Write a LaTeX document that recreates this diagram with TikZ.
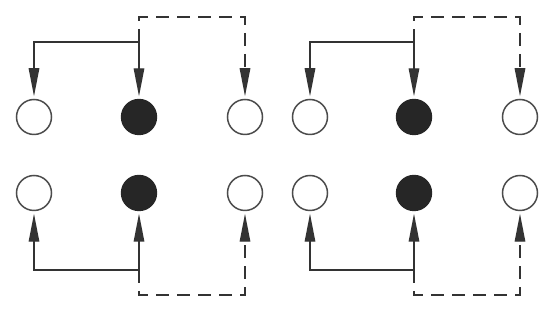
\documentclass[tikz,border=0pt]{standalone}
\usetikzlibrary{arrows.meta}
\begin{document}
\begin{tikzpicture}[x=1pt,y=-1pt,
  ln/.style={draw=black!80, line width=1.4pt},
  arr/.style={ln, -{Triangle[length=28pt,width=10.5pt]}, shorten >=2.5pt},
  dsh/.style={dash pattern=on 13pt off 8pt},
  hole/.style={circle, draw=black!70, line width=1.5pt, fill=white, minimum size=35pt, inner sep=0pt},
  dot/.style={circle, draw=black!85, line width=1.4pt, fill=black!85, minimum size=35pt, inner sep=0pt}]
\useasboundingbox (0,0) rectangle (550,328);
% top row
\node[hole] (a1) at (34,117) {};
\node[dot]  (b1) at (139,117) {};
\node[hole] (c1) at (245,117) {};
\node[hole] (a2) at (310,117) {};
\node[dot]  (b2) at (414,117) {};
\node[hole] (c2) at (520,117) {};
% bottom row
\node[hole] (a3) at (34,193) {};
\node[dot]  (b3) at (139,193) {};
\node[hole] (c3) at (245,193) {};
\node[hole] (a4) at (310,193) {};
\node[dot]  (b4) at (414,193) {};
\node[hole] (c4) at (520,193) {};
% junctions
\coordinate (j1) at (139,42);
\coordinate (d1) at (139,17);
\coordinate (j2) at (414,42);
\coordinate (d2) at (414,17);
\coordinate (j3) at (139,270);
\coordinate (d3) at (139,295);
\coordinate (j4) at (414,270);
\coordinate (d4) at (414,295);
% top connectors
\draw[arr] (j1) -| (a1);
\draw[arr] (j1) -- (b1);
\draw[arr, dsh] (j1) -- (d1) -| (c1);
\draw[arr] (j2) -| (a2);
\draw[arr] (j2) -- (b2);
\draw[arr, dsh] (j2) -- (d2) -| (c2);
% bottom connectors
\draw[arr] (j3) -| (a3);
\draw[arr] (j3) -- (b3);
\draw[arr, dsh] (j3) -- (d3) -| (c3);
\draw[arr] (j4) -| (a4);
\draw[arr] (j4) -- (b4);
\draw[arr, dsh] (j4) -- (d4) -| (c4);
\end{tikzpicture}
\end{document}
